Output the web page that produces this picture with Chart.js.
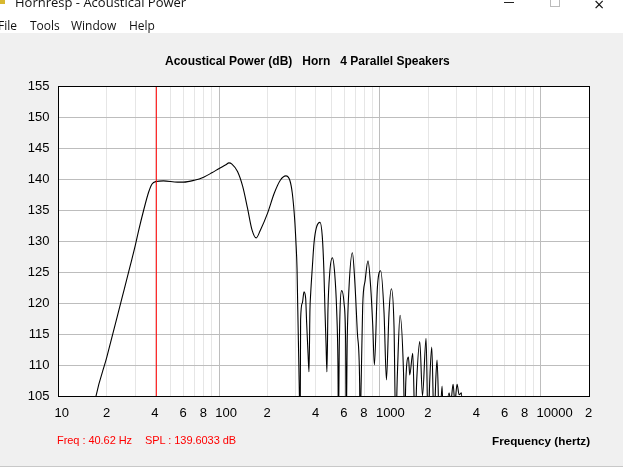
<!DOCTYPE html>
<html>
<head>
<meta charset="utf-8">
<title>Hornresp - Acoustical Power</title>
<script src="https://cdn.jsdelivr.net/npm/chart.js@4"></script>
<style>
    html, body { margin: 0; padding: 0; background: #fff; overflow: hidden; }
    #win { position: relative; width: 629px; height: 468px; overflow: hidden; }
    #client { position: absolute; left: 0; top: 33px; width: 623px; height: 433px; background: #f0f0f0; border-bottom: 1px solid #c8c8c8; }
    #plot { position: absolute; left: 0; top: 0; }
    .lbl { position: absolute; white-space: pre; }
    .ui { font: 12px "Open Sans", sans-serif; color: #111; }
    .head { font: bold 12px "Liberation Sans", sans-serif; color: #000; }
    .read { font: 11px "Liberation Sans", sans-serif; color: #f00; letter-spacing: -0.05px; }
</style>
</head>
<body>
<div id="win">
    <div id="client"></div>
    <canvas id="plot" width="629" height="468"></canvas>
    <div class="lbl ui" style="left:15px;top:-7px;font-size:13px">Hornresp - Acoustical Power</div>
    <div class="lbl" style="left:0;top:0;width:5px;height:4px;background:#d8b830"></div>
    <div class="lbl" style="left:504px;top:2px;width:10px;height:1px;background:#222"></div>
    <div class="lbl" style="left:550px;top:-3px;width:8px;height:8px;border:1px solid #bbb"></div>
    <div class="lbl ui" style="left:594px;top:-6px;font-size:18px;line-height:20px">×</div>
    <div class="lbl ui" style="left:-2px;top:17px">File</div>
    <div class="lbl ui" style="left:30px;top:17px">Tools</div>
    <div class="lbl ui" style="left:71px;top:17px">Window</div>
    <div class="lbl ui" style="left:129px;top:17px">Help</div>
    <div class="lbl head" style="left:165px;top:54px">Acoustical Power (dB)   Horn   4 Parallel Speakers</div>
    <div class="lbl read" style="left:57px;top:434px">Freq : 40.62 Hz</div>
    <div class="lbl read" style="left:145px;top:434px">SPL : 139.6033 dB</div>
    <div class="lbl head" style="left:492px;top:434px;font-size:11.7px">Frequency (hertz)</div>
</div>
<script>
// Values
const frequencies = [
    16, 17, 20, 25, 28, 30, 31.6, 33.9, 36.4, 38.2, 40.62, 45, 55, 60, 70, 80, 90, 100, 110, 115, 120,
    130, 140, 150, 160, 170, 180, 200, 220, 240, 260, 275, 285, 295, 300, 305, 308, 313, 316, 319,
    321, 329, 337, 345, 350, 357, 362, 367, 371, 380, 389, 402, 424, 438, 448, 455, 462, 468,
    475, 487, 506, 523, 538, 548, 552, 559, 578, 598, 612, 617, 626, 642, 674, 697, 724, 748, 752,
    765, 781, 810, 843, 876, 902, 924, 965, 1011, 1061, 1098, 1139, 1179, 1224, 1254,
    1285, 1334, 1401, 1427, 1448, 1505, 1533, 1601, 1654, 1695, 1770, 1840, 1937, 1994,
    2043, 2102, 2173, 2226, 2268, 2348, 2437, 2487, 2695, 2760, 2854, 2925, 3022, 3110, 3219, 3280,
    4000, 20000
];
const powers = [
    100, 104.6, 111.3, 121.1, 126.1, 129.2, 131.8, 135, 137.9, 139.2, 139.6, 139.7, 139.5, 139.5, 139.8, 140.3, 141, 141.7, 142.3, 142.6, 142.4,
    141.2, 138.8, 135.3, 131.8, 130.5, 131.7, 134.5, 137.7, 139.8, 140.5, 139.8, 137.7, 133.4, 130, 125.5, 119.5, 110, 104, 100,
    117.3, 120, 121.8, 120.8, 116.8, 111.9, 108.9, 118.9, 121.6, 125.9, 129.7, 132.1, 133, 130.7, 125.3, 118.9, 113.5, 108.9,
    118.9, 124.8, 127.3, 124.8, 118.9, 110.3, 100, 113.5, 122, 120, 113.5, 100, 114, 122.4, 128.1, 123.7, 115.2, 107.1, 100,
    107.6, 119.4, 123.7, 126.8, 122.6, 116.5, 110, 122.6, 125.2, 118.4, 107.6, 118.4, 122.3, 116.2, 100,
    108.7, 118, 109.2, 100, 107.1, 111.3, 108.4, 111.9, 100, 107.6, 113.8, 105, 114.3, 100,
    107.6, 112.9, 100, 107.6, 110.8, 100, 106.6, 100, 105.5, 104, 106.9, 104, 106.9, 105.2, 105.5, 100,
    95, 60
];
const cursorFreq = 40.62;
const cursorRange = [105, 155];
const xTickValues = [
    10, 20, 30, 40, 50, 60, 70, 80, 90,
    100, 200, 300, 400, 500, 600, 700, 800, 900,
    1000, 2000, 3000, 4000, 5000, 6000, 7000, 8000, 9000,
    10000, 20000
];
const xTickLabels = [
    '10', '2', '', '4', '', '6', '', '8', '',
    '100', '2', '', '4', '', '6', '', '8', '',
    '1000', '2', '', '4', '', '6', '', '8', '',
    '10000', '2'
];
const decades = [10, 100, 1000, 10000];

// White plot background and black frame round it
const plotFrame = {
    id: 'plotFrame',
    beforeDraw(chart) {
        const { ctx, chartArea: a } = chart;
        ctx.save();
        ctx.fillStyle = '#fff';
        ctx.fillRect(a.left, a.top, a.right - a.left, a.bottom - a.top);
        ctx.restore();
    },
    afterDatasetsDraw(chart) {
        const { ctx, chartArea: a } = chart;
        const left = Math.floor(a.left) + 0.5;
        ctx.save();
        ctx.strokeStyle = '#000';
        ctx.lineWidth = 1;
        ctx.strokeRect(left, a.top + 0.5, Math.round(a.right - left), a.bottom - a.top);
        ctx.restore();
    }
};

const tickFont = { family: "'Liberation Sans', sans-serif", size: 13, weight: 'normal' };

new Chart(document.getElementById('plot').getContext('2d'), {
    type: 'line',
    data: {
        datasets: [
            {
                data: cursorRange.map(v => ({ x: cursorFreq, y: v })),
                borderColor: '#ff0000',
                borderWidth: 1,
                pointRadius: 0
            },
            {
                data: frequencies.map((f, i) => ({ x: f, y: powers[i] })),
                borderColor: '#000',
                borderWidth: 1.1,
                pointRadius: 0,
                cubicInterpolationMode: 'monotone'
            }
        ]
    },
    options: {
        responsive: false,
        animation: false,
        parsing: false,
        layout: { padding: { top: 86, right: 40, left: 0, bottom: 0 } },
        plugins: { legend: { display: false }, title: { display: false }, tooltip: { enabled: false } },
        scales: {
            x: {
                type: 'logarithmic',
                min: 10,
                max: 20000,
                afterBuildTicks: scale => { scale.ticks = xTickValues.map(v => ({ value: v })); },
                afterFit: scale => {
                    scale.height = 72;
                    scale.paddingLeft = 0;
                    scale.paddingRight = 0;
                },
                border: { display: false },
                grid: {
                    drawTicks: false,
                    lineWidth: 1,
                    color: c => decades.includes(c.tick.value) ? '#bdbdbd' : '#e6e6e6'
                },
                ticks: {
                    autoSkip: false,
                    maxRotation: 0,
                    minRotation: 0,
                    align: 'start',
                    labelOffset: -4,
                    padding: 10,
                    color: '#000',
                    font: tickFont,
                    callback: (value, index) => xTickLabels[index]
                }
            },
            y: {
                min: 105,
                max: 155,
                afterFit: scale => { scale.width = 58.5; },
                border: { display: false },
                grid: { drawTicks: false, color: '#bdbdbd', lineWidth: 1 },
                ticks: { stepSize: 5, padding: 9, color: '#000', font: tickFont }
            }
        }
    },
    plugins: [plotFrame]
});
</script>
</body>
</html>
